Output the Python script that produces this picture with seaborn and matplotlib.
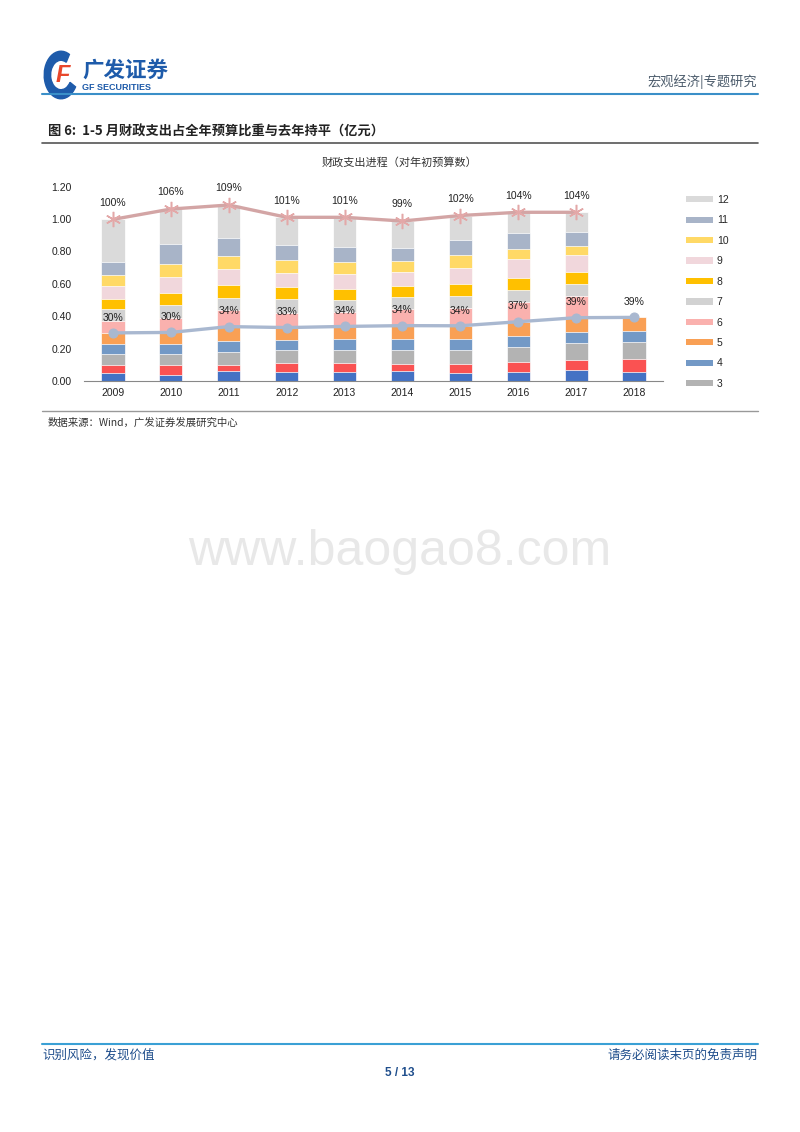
import matplotlib
matplotlib.use("Agg")
import matplotlib.pyplot as plt
from matplotlib.lines import Line2D
from matplotlib.patches import Rectangle, Wedge
import numpy as np
import pandas as pd
import seaborn as sns

years = ["2009", "2010", "2011", "2012", "2013", "2014", "2015", "2016", "2017", "2018"]

# 累计支出占年初预算比重（各月末）
cum_1 = [0.051, 0.037, 0.062, 0.054, 0.058, 0.064, 0.047, 0.056, 0.070, 0.058]
cum_2 = [0.101, 0.097, 0.099, 0.109, 0.111, 0.107, 0.107, 0.115, 0.128, 0.136]
cum_3 = [0.167, 0.169, 0.177, 0.191, 0.191, 0.189, 0.189, 0.210, 0.235, 0.241]
cum_4 = [0.231, 0.231, 0.249, 0.255, 0.259, 0.259, 0.259, 0.280, 0.305, 0.311]
cum_5 = [0.297, 0.300, 0.336, 0.330, 0.337, 0.342, 0.341, 0.366, 0.391, 0.393]
cum_6 = [0.371, 0.387, 0.441, 0.418, 0.428, 0.443, 0.449, 0.490, 0.527, None]
cum_7 = [0.443, 0.469, 0.515, 0.504, 0.498, 0.519, 0.525, 0.562, 0.599, None]
cum_8 = [0.504, 0.541, 0.593, 0.579, 0.566, 0.585, 0.597, 0.638, 0.675, None]
cum_9 = [0.589, 0.642, 0.692, 0.669, 0.661, 0.675, 0.700, 0.751, 0.776, None]
cum_10 = [0.653, 0.721, 0.772, 0.745, 0.737, 0.741, 0.778, 0.815, 0.834, None]
cum_11 = [0.737, 0.844, 0.885, 0.842, 0.830, 0.824, 0.871, 0.916, 0.918, None]
cum_12 = [0.998, 1.062, 1.087, 1.011, 1.011, 0.988, 1.022, 1.042, 1.042, None]

months = ["1", "2", "3", "4", "5", "6", "7", "8", "9", "10", "11", "12"]
cums = [cum_1, cum_2, cum_3, cum_4, cum_5, cum_6, cum_7, cum_8, cum_9, cum_10, cum_11, cum_12]
colors = ["#4472C4", "#FA5252", "#B3B3B3", "#7399C6", "#F9A055", "#FAB1AE",
          "#D2D2D2", "#FFC000", "#F1D7DC", "#FFD966", "#A8B4C8", "#DADADA"]

CN = ["Noto Sans CJK SC", "DejaVu Sans"]
sns.set_style("white")
plt.rcParams["font.family"] = ["Liberation Sans", "Noto Sans CJK SC", "DejaVu Sans"]

W, H = 800, 1132
fig = plt.figure(figsize=(8, 11.32), dpi=100)


def fx(px):
    return px / W


def fy(py):
    return 1 - py / H


def hline(y, x0, x1, color, lw):
    fig.add_artist(Line2D([fx(x0), fx(x1)], [fy(y), fy(y)], transform=fig.transFigure,
                          color=color, lw=lw))


# ---- 页眉 ----
fig.add_artist(Wedge((fx(61), fy(75)), 0.021, 60, 330, width=0.008,
                     transform=fig.transFigure, color="#1E5BAA"))
fig.text(fx(63), fy(76), "F", fontsize=17, fontweight="bold", style="italic",
         color="#E8472B", ha="center", va="center")
fig.text(fx(82), fy(70), "广发证券", family=CN, fontsize=15.5, fontweight="bold",
         color="#1E5BAA", ha="left", va="center")
fig.text(fx(82), fy(88), "GF SECURITIES", fontsize=6.5, fontweight="bold",
         color="#1E5BAA", ha="left", va="center")
fig.text(fx(757), fy(82), "宏观经济|专题研究", family=CN, fontsize=9.5,
         color="#4A5A6A", ha="right", va="center")
hline(94, 42, 758, "#3A8FC8", 1.5)

fig.text(fx(48), fy(132), "图 6:  1-5 月财政支出占全年预算比重与去年持平（亿元）", family=CN,
         fontsize=9.5, fontweight="bold", color="#222222", ha="left", va="center")
hline(143, 42, 758, "#555555", 1.2)

fig.text(fx(400), fy(162), "财政支出进程（对年初预算数）", family=CN, fontsize=8,
         color="#333333", ha="center", va="center")

# ---- 图表 ----
ax = fig.add_axes([fx(84), fy(381), fx(663) - fx(84), (381 - 186.7) / H])

for k in range(11, -1, -1):
    df = pd.DataFrame({"year": years, "v": cums[k]}).dropna()
    sns.barplot(data=df, x="year", y="v", order=years, color=colors[k], width=0.4,
                saturation=1, errorbar=None, edgecolor="white", linewidth=0.5, ax=ax)

xs = np.arange(len(years))
total = [v for v in cum_12 if v is not None]
sns.lineplot(x=xs[:len(total)], y=total, color="#D3A5A5", lw=2.4, ax=ax,
             marker=(6, 2, 0), markersize=11, markeredgecolor="#E3A8A8",
             markeredgewidth=1.1, zorder=5)
sns.lineplot(x=xs, y=cum_5, color="#A9B8D0", lw=2.4, ax=ax, marker="o",
             markersize=6.5, markeredgecolor="#A9B8D0", zorder=5)

for i, v in enumerate(total):
    ax.annotate(f"{v * 100:.0f}%", (i, v), xytext=(0, 12), textcoords="offset points",
                ha="center", va="center", fontsize=7.5, color="#222222")
for i, v in enumerate(cum_5):
    ax.annotate(f"{v * 100:.0f}%", (i, v), xytext=(0, 11), textcoords="offset points",
                ha="center", va="center", fontsize=7.5, color="#222222", zorder=6)

ax.set_xlim(-0.5, len(years) - 0.5)
ax.set_ylim(0, 1.2)
ax.set_yticks(np.arange(0, 1.21, 0.2))
ax.set_yticklabels([f"{t:.2f}" for t in np.arange(0, 1.21, 0.2)])
ax.set_xticks(np.arange(-0.5, len(years), 1), minor=True)
ax.tick_params(axis="x", which="major", length=0, pad=5, labelsize=7.5, labelcolor="#222222")
ax.tick_params(axis="x", which="minor", length=4, color="#888888", width=0.8)
ax.tick_params(axis="y", length=0, pad=9, labelsize=7.5, labelcolor="#222222")
ax.set_xlabel("")
ax.set_ylabel("")
for s in ["top", "right", "left"]:
    ax.spines[s].set_visible(False)
ax.spines["bottom"].set_color("#888888")
ax.spines["bottom"].set_linewidth(0.8)
ax.grid(False)

handles = [Rectangle((0, 0), 1, 1, fc=colors[k], ec="none") for k in range(11, 1, -1)]
labels = [months[k] for k in range(11, 1, -1)]
fig.legend(handles, labels, loc="upper left", bbox_to_anchor=(fx(686), fy(195)),
           frameon=False, fontsize=7.5, handlelength=2.6, handleheight=0.55,
           labelspacing=1.0, handletextpad=0.35, borderpad=0, borderaxespad=0)

hline(411, 42, 758, "#999999", 1.0)
fig.text(fx(48), fy(423), "数据来源：Wind，广发证券发展研究中心", family=CN, fontsize=7.5,
         color="#333333", ha="left", va="center")

# ---- 水印 ----
fig.text(fx(400), fy(552), "www.baogao8.com", fontsize=36, color="#E8E8E8",
         ha="center", va="center")

# ---- 页脚 ----
hline(1044, 42, 758, "#3AA0D5", 1.5)
fig.text(fx(42), fy(1055), "识别风险，发现价值", family=CN, fontsize=9,
         color="#1F4E8C", ha="left", va="center")
fig.text(fx(758), fy(1055), "请务必阅读末页的免责声明", family=CN, fontsize=9,
         color="#1F4E8C", ha="right", va="center")
fig.text(fx(400), fy(1073), "5 / 13", fontsize=8.5, fontweight="bold",
         color="#1F4E8C", ha="center", va="center")

fig.savefig("out.png", dpi=100)
